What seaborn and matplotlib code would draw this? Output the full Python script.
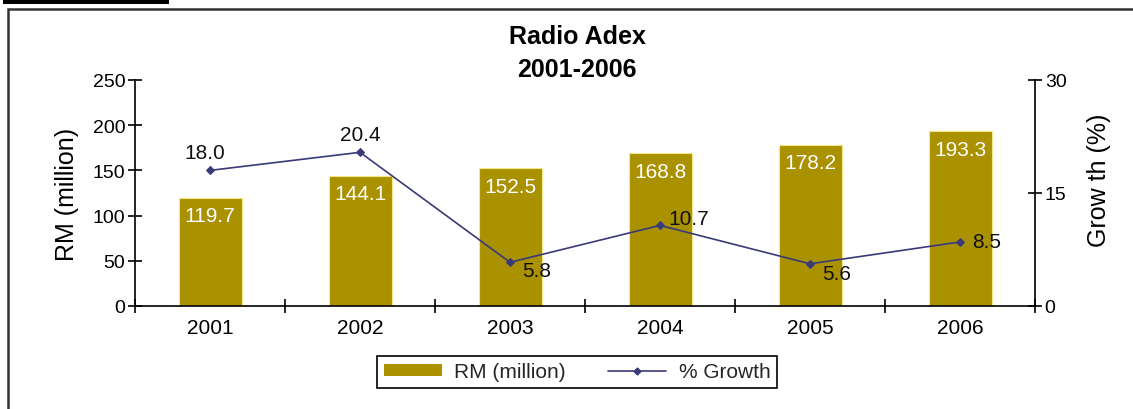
import numpy as np
import pandas as pd
import matplotlib
matplotlib.use("Agg")
import matplotlib.pyplot as plt
from matplotlib.patches import Rectangle, Patch
from matplotlib.lines import Line2D
import seaborn as sns

# Radio advertising expenditure, 2001-2006
years = ["2001", "2002", "2003", "2004", "2005", "2006"]
rm_million = [119.7, 144.1, 152.5, 168.8, 178.2, 193.3]
growth_pct = [18.0, 20.4, 5.8, 10.7, 5.6, 8.5]

rm_ticks = [0, 50, 100, 150, 200, 250]
growth_ticks = [0, 15, 30]

BAR_COLOR = "#A99100"
LINE_COLOR = "#3A3A78"

sns.set_theme(style="white")
plt.rcParams["font.family"] = ["Liberation Sans", "DejaVu Sans"]

df = pd.DataFrame({"year": years, "rm": rm_million, "growth": growth_pct})
pos = np.arange(len(years))

fig = plt.figure(figsize=(11.33, 4.10), dpi=100)
ax = fig.add_axes([135 / 1133, 1 - 307 / 410, 900 / 1133, 226 / 410])

sns.barplot(data=df, x="year", y="rm", color=BAR_COLOR, width=0.42,
            saturation=1, edgecolor="#F2E88A", linewidth=0.8, ax=ax)
ax.set_xlim(-0.5, len(years) - 0.5)
ax.set_ylim(0, 250)
ax.set_yticks(rm_ticks)
ax.set_xlabel("")
ax.set_ylabel("RM (million)", fontsize=18, labelpad=10)

# Value labels inside the top of each bar
for x, v in zip(pos, rm_million):
    ax.annotate(f"{v:.1f}", (x, v), xytext=(0, -13), textcoords="offset points",
                ha="center", va="center", color="white", fontsize=15)

# Growth line on the secondary axis
ax2 = ax.twinx()
sns.lineplot(x=pos, y=growth_pct, color=LINE_COLOR, marker="D", markersize=4,
             markeredgecolor=LINE_COLOR, linewidth=1.2, ax=ax2)
ax2.set_ylim(0, 30)
ax2.set_yticks(growth_ticks)
ax2.set_xlim(-0.5, len(years) - 0.5)
ax2.set_ylabel("Grow th (%)", fontsize=18)
ax2.yaxis.set_label_coords(1.058, 0.56)

label_offsets = [(-4, 13, "center"), (0, 13, "center"), (9, -6, "left"),
                 (6, 5, "left"), (9, -7, "left"), (9, 0, "left")]
for x, g, (dx, dy, ha) in zip(pos, growth_pct, label_offsets):
    ax2.annotate(f"{g:.1f}", (x, g), xytext=(dx, dy), textcoords="offset points",
                 ha=ha, va="center", color="#111111", fontsize=15)

# Axis styling: only left, bottom and right spines, ticks crossing them
for a in (ax, ax2):
    a.spines["top"].set_visible(False)
    a.spines["left"].set_visible(a is ax)
    a.spines["right"].set_visible(a is ax2)
    a.spines["bottom"].set_visible(a is ax)
    for s in ("left", "right", "bottom"):
        a.spines[s].set_color("black")
        a.spines[s].set_linewidth(1.2)

ax.tick_params(axis="y", which="major", direction="inout", length=10, width=1.2,
               left=True, labelsize=14, pad=2, colors="black")
ax.tick_params(axis="x", which="major", length=0, labelsize=15, pad=9,
               colors="black")
ax.set_xticks(np.arange(-0.5, len(years), 1.0), minor=True)
ax.tick_params(axis="x", which="minor", direction="inout", length=10, width=1.2,
               bottom=True, colors="black")
ax2.tick_params(axis="y", which="major", direction="inout", length=10, width=1.2,
                right=True, labelsize=14, pad=2, colors="black")
ax.yaxis.label.set_color("black")
ax2.yaxis.label.set_color("black")

# Title
fig.text(577 / 1133, 1 - 37 / 410, "Radio Adex", ha="center", va="center",
         fontsize=18, fontweight="bold", color="black")
fig.text(577 / 1133, 1 - 70 / 410, "2001-2006", ha="center", va="center",
         fontsize=18, fontweight="bold", color="black")

# Legend
handles = [Patch(facecolor=BAR_COLOR, edgecolor="none"),
           Line2D([], [], color=LINE_COLOR, marker="D", markersize=3.5,
                  linewidth=1.2)]
leg = fig.legend(handles, ["RM (million)", "% Growth"], loc="center",
                 bbox_to_anchor=(577 / 1133, 1 - 373 / 410), ncol=2,
                 fontsize=15, frameon=True, fancybox=False, framealpha=1,
                 edgecolor="black", handlelength=2.8, handleheight=0.45,
                 columnspacing=2.0, borderpad=0.3, handletextpad=0.6)
leg.get_frame().set_linewidth(1.2)

# Outer frame and header rule
fig.patches.append(Rectangle((8 / 1133, -0.2), 1.2, 1.2 - 10 / 410,
                             transform=fig.transFigure, fill=False,
                             edgecolor="#333333", linewidth=1.8))
fig.patches.append(Rectangle((3 / 1133, 1 - 5 / 410), 166 / 1133, 4 / 410,
                             transform=fig.transFigure, facecolor="black",
                             edgecolor="none"))

fig.savefig("out.png", dpi=100)
